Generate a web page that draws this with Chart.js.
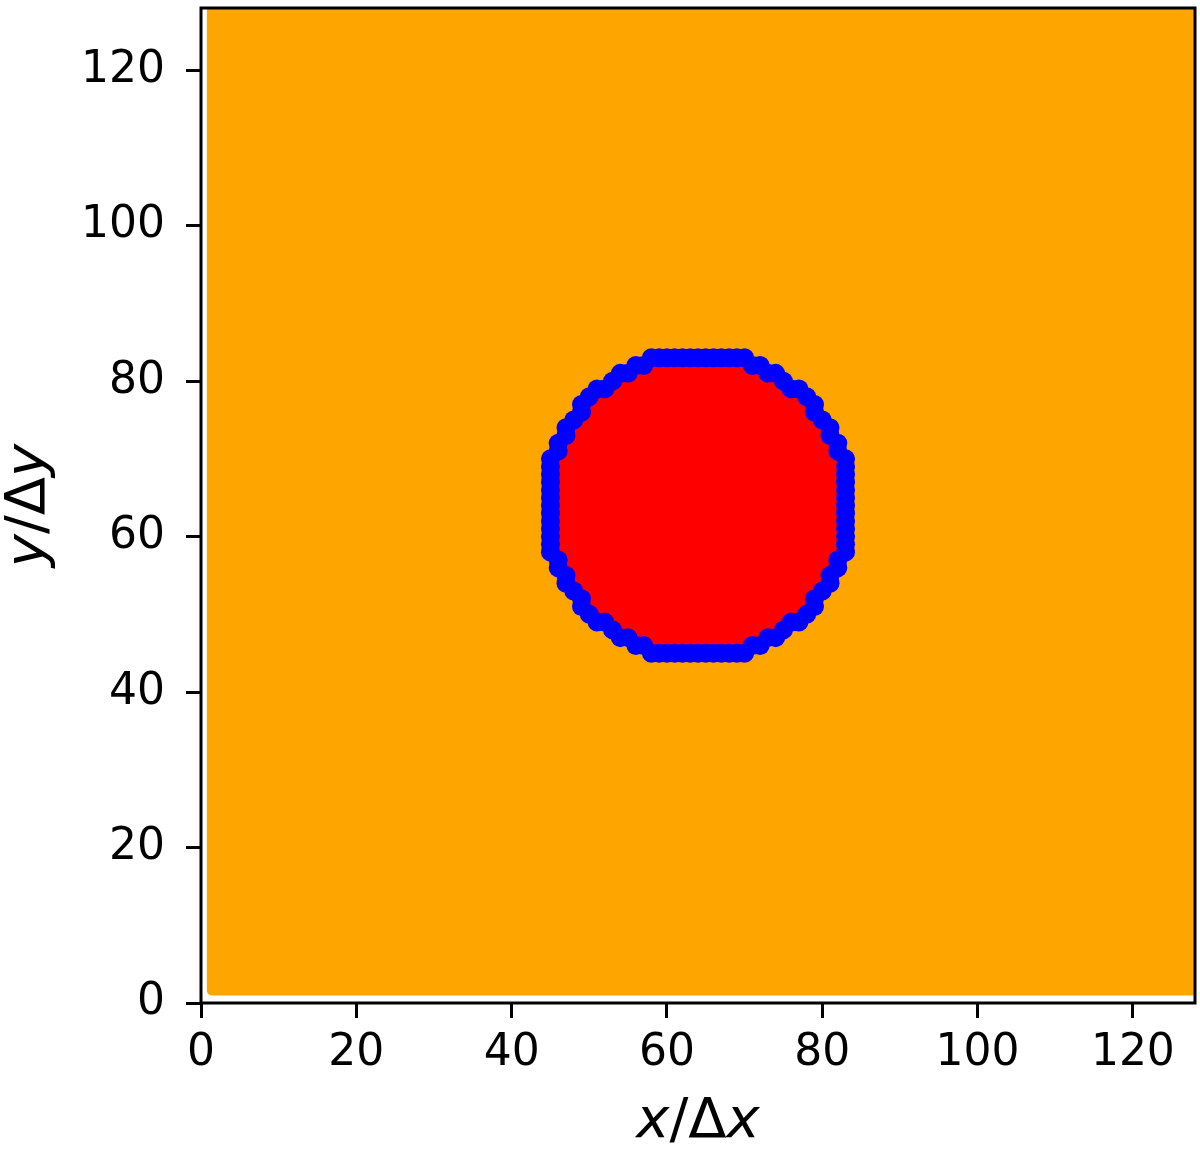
<!DOCTYPE html>
<html>
<head>
<meta charset="utf-8">
<script src="https://cdn.jsdelivr.net/npm/chart.js@4.4.1/dist/chart.umd.min.js"></script>
<style>
  html, body { margin: 0; padding: 0; background: #fff; }
  canvas { display: block; }
</style>
</head>
<body>
<canvas id="grafico" width="1200" height="1149"></canvas>
<script>
// axis range and ticks (grid cells)
const axisMin = 0;
const axisMax = 128;
const tickValues = [0, 20, 40, 60, 80, 100, 120];

// orange: the filled domain, corner cells
const domainX = [1.4, 128, 128, 1.4, 1.4];
const domainY = [1.6, 1.6, 128, 128, 1.6];

// blue: interface cells, counter-clockwise from the top
const boundaryX = [
  64, 63, 62, 61, 60, 59, 58, 57, 56, 55, 54, 53, 52, 51, 50, 49, 49, 48, 47, 47, 46, 46,
  45, 45, 45, 45, 45, 45, 45,
  45, 45, 45, 45, 45, 45,
  46, 46, 47, 47, 48, 49, 49, 50, 51, 52, 53, 54, 55, 56, 57,
  58, 59, 60, 61, 62, 63, 64,
  65, 66, 67, 68, 69, 70,
  71, 72, 73, 74, 75, 76, 77, 78, 79, 79, 80, 81, 81, 82, 82,
  83, 83, 83, 83, 83, 83, 83,
  83, 83, 83, 83, 83, 83,
  82, 82, 81, 81, 80, 79, 79, 78, 77, 76, 75, 74, 73, 72, 71,
  70, 69, 68, 67, 66, 65
];
const boundaryY = [
  83, 83, 83, 83, 83, 83, 83, 82, 82, 81, 81, 80, 79, 79, 78, 77, 76, 75, 74, 73, 72, 71,
  70, 69, 68, 67, 66, 65, 64,
  63, 62, 61, 60, 59, 58,
  57, 56, 55, 54, 53, 52, 51, 50, 49, 49, 48, 47, 47, 46, 46,
  45, 45, 45, 45, 45, 45, 45,
  45, 45, 45, 45, 45, 45,
  46, 46, 47, 47, 48, 49, 49, 50, 51, 52, 53, 54, 55, 56, 57,
  58, 59, 60, 61, 62, 63, 64,
  65, 66, 67, 68, 69, 70,
  71, 72, 73, 74, 75, 76, 77, 78, 79, 79, 80, 81, 81, 82, 82,
  83, 83, 83, 83, 83, 83
];

const pts = (xs, ys) => xs.map((x, i) => ({ x: x, y: ys[i] }));

// math-style label: italic variables, upright symbols
function drawMath(ctx, parts, cx, cy, angle) {
  ctx.save();
  ctx.translate(cx, cy);
  ctx.rotate(angle);
  ctx.fillStyle = '#000';
  ctx.textBaseline = 'alphabetic';
  ctx.textAlign = 'left';
  let total = 0;
  const widths = parts.map(p => {
    ctx.font = (p[1] ? 'italic ' : '') + '56px "DejaVu Sans"';
    const w = ctx.measureText(p[0]).width;
    total += w;
    return w;
  });
  let x = -total / 2;
  parts.forEach((p, i) => {
    ctx.font = (p[1] ? 'italic ' : '') + '56px "DejaVu Sans"';
    ctx.fillText(p[0], x, 0);
    x += widths[i];
  });
  ctx.restore();
}

const moldura = {
  id: 'moldura',
  afterDraw(chart) {
    const { ctx, chartArea: a } = chart;
    ctx.save();
    ctx.strokeStyle = '#000';
    ctx.lineWidth = 3;
    ctx.strokeRect(a.left, a.top, a.right - a.left, a.bottom - a.top);
    ctx.restore();
    drawMath(ctx, [['x', true], ['/Δ', false], ['x', true]], (a.left + a.right) / 2, 1137, 0);
    drawMath(ctx, [['y', true], ['/Δ', false], ['y', true]], 44, (a.top + a.bottom) / 2, -Math.PI / 2);
  }
};

// no extra room for the end labels, chart area is set by hand
function noPad(s) {
  s.paddingTop = 0;
  s.paddingBottom = 0;
  s.paddingLeft = 0;
  s.paddingRight = 0;
}

const tickFont = { family: 'DejaVu Sans', size: 44 };
const ctx = document.getElementById('grafico').getContext('2d');

new Chart(ctx, {
  type: 'scatter',
  data: {
    datasets: [
      {
        label: 'interface',
        data: pts(boundaryX, boundaryY),
        pointRadius: 9.5,
        pointHoverRadius: 9.5,
        backgroundColor: '#0000ff',
        borderColor: '#0000ff',
        borderWidth: 0,
        order: 0
      },
      {
        type: 'line',
        label: 'inside',
        data: pts(boundaryX, boundaryY),
        fill: 'shape',
        backgroundColor: '#ff0000',
        borderColor: '#ff0000',
        borderWidth: 1,
        pointRadius: 0,
        tension: 0,
        order: 1,
        clip: 0
      },
      {
        type: 'line',
        label: 'outside',
        data: pts(domainX, domainY),
        fill: 'shape',
        backgroundColor: '#ffa500',
        borderColor: '#ffa500',
        borderWidth: 10,
        borderJoinStyle: 'round',
        borderCapStyle: 'round',
        pointRadius: 0,
        tension: 0,
        order: 2,
        clip: 0
      }
    ]
  },
  options: {
    responsive: false,
    animation: false,
    devicePixelRatio: 1,
    events: [],
    layout: { autoPadding: false, padding: { top: 8, right: 5, left: 0, bottom: 0 } },
    plugins: {
      legend: { display: false },
      tooltip: { enabled: false }
    },
    scales: {
      x: {
        type: 'linear',
        min: axisMin,
        max: axisMax,
        afterBuildTicks: s => { s.ticks = tickValues.map(v => ({ value: v })); },
        afterFit: s => { s.height = 146; noPad(s); },
        ticks: { color: '#000', font: tickFont, padding: 9, maxRotation: 0, autoSkip: false },
        grid: { drawOnChartArea: false, drawTicks: true, tickLength: 15, tickWidth: 3, tickColor: '#000' },
        border: { display: false }
      },
      y: {
        type: 'linear',
        min: axisMin,
        max: axisMax,
        afterBuildTicks: s => { s.ticks = tickValues.map(v => ({ value: v })); },
        afterFit: s => { s.width = 201; noPad(s); },
        ticks: { color: '#000', font: tickFont, padding: 21, autoSkip: false },
        grid: { drawOnChartArea: false, drawTicks: true, tickLength: 15, tickWidth: 3, tickColor: '#000' },
        border: { display: false }
      }
    }
  },
  plugins: [moldura]
});
</script>
</body>
</html>
